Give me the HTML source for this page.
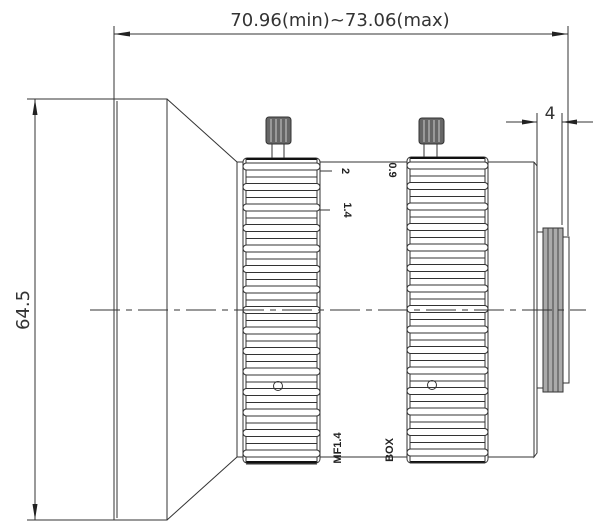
<!DOCTYPE html>
<html><head><meta charset="utf-8"><style>html,body{margin:0;padding:0;background:#fff}svg{display:block}</style></head>
<body>
<svg id="s" width="600" height="528" viewBox="0 0 600 528" xmlns="http://www.w3.org/2000/svg" fill="none" stroke="#333" stroke-width="1">
<!-- top dimension -->
<text x="340" y="26" font-family="DejaVu Sans, sans-serif" font-size="18" fill="#333" stroke="none" text-anchor="middle" font-weight="normal">70.96(min)~73.06(max)</text>
<line x1="114" y1="26" x2="114" y2="99"/>
<line x1="568" y1="26" x2="568" y2="236"/>
<line x1="114" y1="34" x2="568" y2="34"/>
<polygon points="114,34 130,31.5 130,36.5" fill="#222" stroke="none"/>
<polygon points="568,34 552,31.5 552,36.5" fill="#222" stroke="none"/>
<!-- left dimension -->
<line x1="27" y1="99" x2="114" y2="99"/>
<line x1="27" y1="520" x2="114" y2="520"/>
<line x1="35" y1="99" x2="35" y2="520"/>
<polygon points="35,99 32.5,115 37.5,115" fill="#222" stroke="none"/>
<polygon points="35,520 32.5,504 37.5,504" fill="#222" stroke="none"/>
<text x="22" y="310" font-family="DejaVu Sans, sans-serif" font-size="18" fill="#333" stroke="none" text-anchor="middle" transform="rotate(-90 22 310)" dy="7">64.5</text>
<!-- dim 4 -->
<line x1="537" y1="113" x2="537" y2="232"/>
<line x1="562" y1="113" x2="562" y2="225"/>
<line x1="506" y1="122" x2="537" y2="122"/>
<line x1="562" y1="122" x2="593" y2="122"/>
<polygon points="537,122 522,119.5 522,124.5" fill="#222" stroke="none"/>
<polygon points="562,122 577,119.5 577,124.5" fill="#222" stroke="none"/>
<text x="550" y="119" font-family="DejaVu Sans, sans-serif" font-size="17" fill="#333" stroke="none" text-anchor="middle">4</text>
<!-- front flange -->
<rect x="114" y="99" width="53" height="421"/>
<line x1="117" y1="101" x2="117" y2="518"/>
<line x1="167" y1="99" x2="237" y2="162"/>
<line x1="167" y1="520" x2="237" y2="457"/>
<!-- body -->
<line x1="237" y1="162" x2="237" y2="457"/>
<line x1="237" y1="162" x2="534" y2="162"/>
<line x1="237" y1="457" x2="534" y2="457"/>
<path d="M534,162 L537,166 L537,453 L534,457 L534,162"/>
<line x1="537" y1="232" x2="543" y2="232"/>
<line x1="537" y1="388" x2="543" y2="388"/>
<!-- mount -->
<rect x="543" y="228" width="20" height="164" fill="#aaa" stroke="#333"/>
<line x1="548" y1="228" x2="548" y2="392" stroke="#444"/>
<line x1="553" y1="228" x2="553" y2="392" stroke="#444"/>
<line x1="558" y1="228" x2="558" y2="392" stroke="#444"/>
<rect x="563" y="237" width="6" height="146"/>
<g id="rings"></g>
<!-- knobs -->
<line x1="272" y1="144" x2="272" y2="158"/><line x1="284" y1="144" x2="284" y2="158"/>
<rect x="266" y="117" width="25" height="27" rx="3" fill="#666"/>
<line x1="424" y1="144" x2="424" y2="157"/><line x1="437" y1="144" x2="437" y2="157"/>
<rect x="419" y="118" width="25" height="26" rx="3" fill="#666"/>
<g stroke="#ccc" stroke-width="1">
<line x1="271" y1="119" x2="271" y2="142"/><line x1="276" y1="119" x2="276" y2="142"/><line x1="281" y1="119" x2="281" y2="142"/><line x1="286" y1="119" x2="286" y2="142"/>
<line x1="424" y1="120" x2="424" y2="142"/><line x1="429" y1="120" x2="429" y2="142"/><line x1="434" y1="120" x2="434" y2="142"/><line x1="439" y1="120" x2="439" y2="142"/>
</g>
<circle cx="278" cy="386" r="4.5"/>
<circle cx="432" cy="385" r="4.5"/>
<!-- marks -->
<line x1="320" y1="171" x2="332" y2="171"/>
<line x1="320" y1="210" x2="330" y2="210"/>
<g font-family="Liberation Sans, sans-serif" font-weight="bold" font-size="11" fill="#222" stroke="none">
<text transform="translate(346,171) rotate(90)" text-anchor="middle" dy="4">2</text>
<text transform="translate(348,210) rotate(90)" text-anchor="middle" dy="4">1.4</text>
<text transform="translate(393,170) rotate(90)" text-anchor="middle" dy="4">0.9</text>
<text transform="translate(337,448) rotate(-90)" text-anchor="middle" dy="4">MF1.4</text>
<text transform="translate(389,450) rotate(-90)" text-anchor="middle" dy="4">BOX</text>
</g>
<!-- center line -->
<line x1="90" y1="310" x2="586" y2="310" stroke-dasharray="30,6,6,6"/>
</svg>
<script>
var g=document.getElementById('rings'),ns='http://www.w3.org/2000/svg';
function el(t,a){var e=document.createElementNS(ns,t);for(var k in a)e.setAttribute(k,a[k]);g.appendChild(e);}
[[243,320,158,463],[407,488,157,463]].forEach(function(r){
 var x1=r[0],x2=r[1],y1=r[2],y2=r[3];
 el('rect',{x:x1,y:y1,width:x2-x1,height:y2-y1,rx:4,fill:'#fff',stroke:'#333'});
 el('line',{x1:x1+3,y1:y1+1,x2:x2-3,y2:y1+1,stroke:'#111','stroke-width':2});
 el('line',{x1:x1+3,y1:y2-1,x2:x2-3,y2:y2-1,stroke:'#111','stroke-width':2});
 el('line',{x1:x1+3,y1:y1,x2:x1+3,y2:y2,stroke:'#333'});
 el('line',{x1:x2-3,y1:y1,x2:x2-3,y2:y2,stroke:'#333'});
 for(var y=y1+5;y<y2-8;y+=20.5){
   el('rect',{x:x1,y:y,width:x2-x1,height:7,rx:3.5,fill:'#fff',stroke:'#333'});
   el('line',{x1:x1+3,y1:y+14,x2:x2-3,y2:y+14,stroke:'#333'});
 }
});
</script>
</body></html>
